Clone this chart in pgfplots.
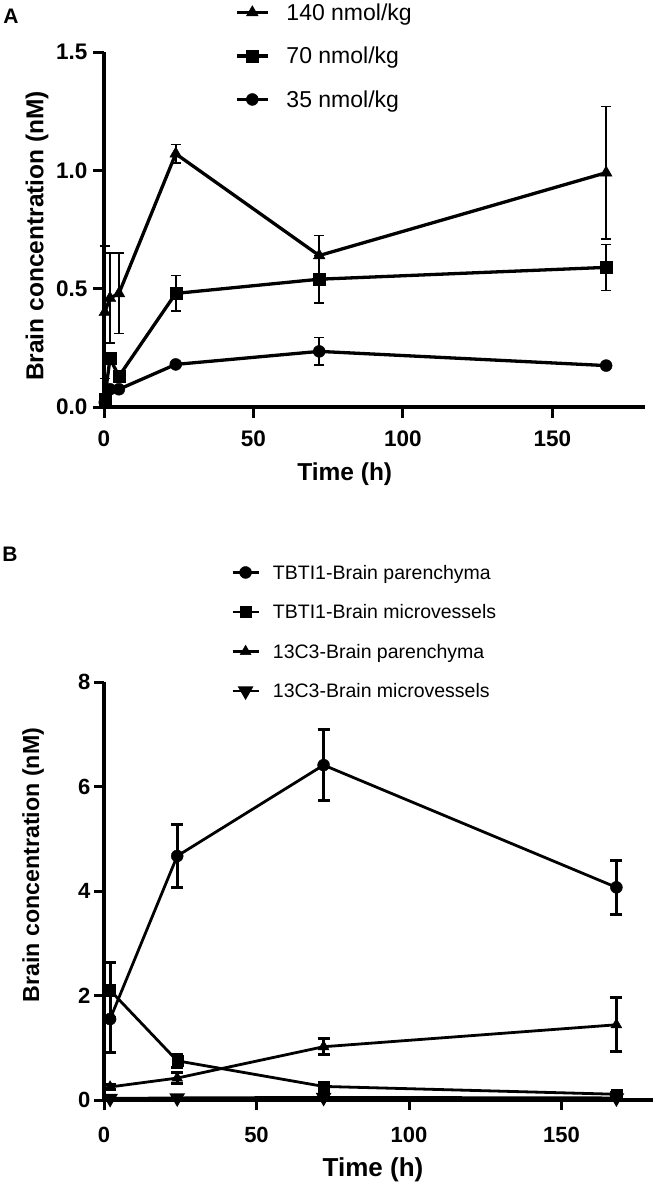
\documentclass[border=0pt]{standalone}
\usepackage{fontspec}
\setmainfont{Liberation Sans}
\usepackage{pgfplots}
\pgfplotsset{compat=1.18}

\pgfplotsset{
  gp/.style={
    scale only axis, clip=false,
    xmin=0, ymin=0,
    axis x line*=bottom, axis y line*=left,
    axis line style={line width=3.5pt},
    tick align=outside, major tick length=11pt,
    every tick/.style={black, line width=3pt},
    /pgf/number format/assume math mode=true,
    legend cell align=left,
    legend image code/.code={
      \draw[#1, mark repeat=2, mark phase=2] plot coordinates {(0pt,0pt) (\legimg/2,0pt) (\legimg,0pt)};},
  },
  ser/.style={black, solid, line width=#1, mark options={solid, fill=black, line width=0.4pt},
    error bars/y dir=both, error bars/y explicit},
}
\newcommand{\legimg}{31pt}

\begin{document}
\begin{tikzpicture}
\path[use as bounding box] (0pt,0pt) rectangle (656pt,-1183pt);

\node[font=\fontsize{21}{21}\selectfont\bfseries] at (11pt,-16pt) {A};
\node[font=\fontsize{21}{21}\selectfont\bfseries] at (10pt,-554pt) {B};

% ---------- panel A ----------
\begin{axis}[gp,
  at={(104pt,-407pt)}, anchor=south west,
  width=541pt, height=355pt,
  xmax=181, ymax=1.5,
  xtick={0,50,100,150}, ytick={0,0.5,1,1.5},
  yticklabel style={xshift=-2pt, /pgf/number format/.cd, fixed, fixed zerofill, precision=1},
  xticklabel style={yshift=-9pt},
  ticklabel style={font=\fontsize{22.5}{22.5}\selectfont\bfseries},
  xlabel={Time (h)}, ylabel={Brain concentration (nM)},
  every axis x label/.style={at={(axis description cs:0.445,-0.19)}, anchor=center,
    font=\fontsize{24.5}{24.5}\selectfont\bfseries},
  every axis y label/.style={at={(axis description cs:-0.124,0.482)}, rotate=90, anchor=center,
    font=\fontsize{24.5}{24.5}\selectfont\bfseries},
  error bars/error bar style={line width=1.6pt},
  error bars/error mark options={rotate=90, mark size=5pt, line width=1.6pt},
  legend style={at={(axis description cs:0.2421,1.138)}, anchor=north west,
    draw=none, fill=none, inner sep=0pt, row sep=25pt,
    font=\fontsize{23}{23}\selectfont, nodes={inner sep=0pt},
    /tikz/every odd column/.append style={column sep=17pt},
    /tikz/every even column/.append style={text height=17pt, text depth=5pt}},
]
\addplot+[ser=3.3pt, mark=triangle*, mark size=6.8pt] coordinates {
  (0.25,0.40) +- (0,0.28)
  (2,0.46) +- (0,0.19)
  (5,0.48) +- (0,0.17)
  (24,1.07) +- (0,0.04)
  (72,0.64) +- (0,0.085)
  (168,0.99) +- (0,0.28)
};
\addlegendentry{140 nmol/kg}
\addplot+[ser=3.3pt, mark=square*, mark size=6pt] coordinates {
  (0.25,0.035) +- (0,0.01)
  (2,0.205) +- (0,0.02)
  (5,0.13) +- (0,0.01)
  (24,0.48) +- (0,0.075)
  (72,0.54) +- (0,0.10)
  (168,0.59) +- (0,0.097)
};
\addlegendentry{70 nmol/kg}
\addplot+[ser=3.3pt, mark=*, mark size=6pt] coordinates {
  (0.25,0.02) +- (0,0.005)
  (2,0.075) +- (0,0.01)
  (5,0.075) +- (0,0.01)
  (24,0.18) +- (0,0.01)
  (72,0.235) +- (0,0.058)
  (168,0.175) +- (0,0.01)
};
\addlegendentry{35 nmol/kg}
\end{axis}

% ---------- panel B ----------
\renewcommand{\legimg}{26pt}
\begin{axis}[gp,
  at={(104pt,-1100pt)}, anchor=south west,
  width=549pt, height=418pt,
  xmax=180, ymax=8,
  major tick length=10pt,
  xtick={0,50,100,150}, ytick={0,2,4,6,8},
  xticklabel style={yshift=-14pt},
  ticklabel style={font=\fontsize{22}{22}\selectfont\bfseries},
  xlabel={Time (h)}, ylabel={Brain concentration (nM)},
  every axis x label/.style={at={(axis description cs:0.49,-0.167)}, anchor=center,
    font=\fontsize{26}{26}\selectfont\bfseries},
  every axis y label/.style={at={(axis description cs:-0.129,0.562)}, rotate=90, anchor=center,
    font=\fontsize{23.2}{23.2}\selectfont\bfseries},
  error bars/error bar style={line width=3pt},
  error bars/error mark options={rotate=90, mark size=6pt, line width=3pt},
  legend style={at={(axis description cs:0.2313,1.2823)}, anchor=north west,
    draw=none, fill=none, inner sep=0pt, row sep=23pt,
    font=\fontsize{19.5}{19.5}\selectfont, nodes={inner sep=0pt},
    /tikz/every odd column/.append style={column sep=13pt},
    /tikz/every even column/.append style={text height=15pt, text depth=4.5pt}},
]
\addplot+[ser=2.8pt, mark=*, mark size=6pt] coordinates {
  (2,1.55) +- (0,0.65)
  (24,4.67) +- (0,0.60)
  (72,6.41) +- (0,0.68)
  (168,4.07) +- (0,0.51)
};
\addlegendentry{TBTI1-Brain parenchyma}
\addplot+[ser=2.8pt, mark=square*, mark size=5.5pt] coordinates {
  (2,2.10) +- (0,0.53)
  (24,0.75) +- (0,0.12)
  (72,0.26) +- (0,0.08)
  (168,0.11) +- (0,0.03)
};
\addlegendentry{TBTI1-Brain microvessels}
\addplot+[ser=2.8pt, mark=triangle*, mark size=6.3pt] coordinates {
  (2,0.25) +- (0,0.05)
  (24,0.42) +- (0,0.10)
  (72,1.02) +- (0,0.15)
  (168,1.44) +- (0,0.52)
};
\addlegendentry{13C3-Brain parenchyma}
\addplot+[ser=2.8pt, mark=triangle*, mark size=6.3pt, mark options={rotate=180}] coordinates {
  (2,0.03) +- (0,0.01)
  (24,0.04) +- (0,0.01)
  (72,0.05) +- (0,0.01)
  (168,0.04) +- (0,0.01)
};
\addlegendentry{13C3-Brain microvessels}
\end{axis}
\end{tikzpicture}
\end{document}
